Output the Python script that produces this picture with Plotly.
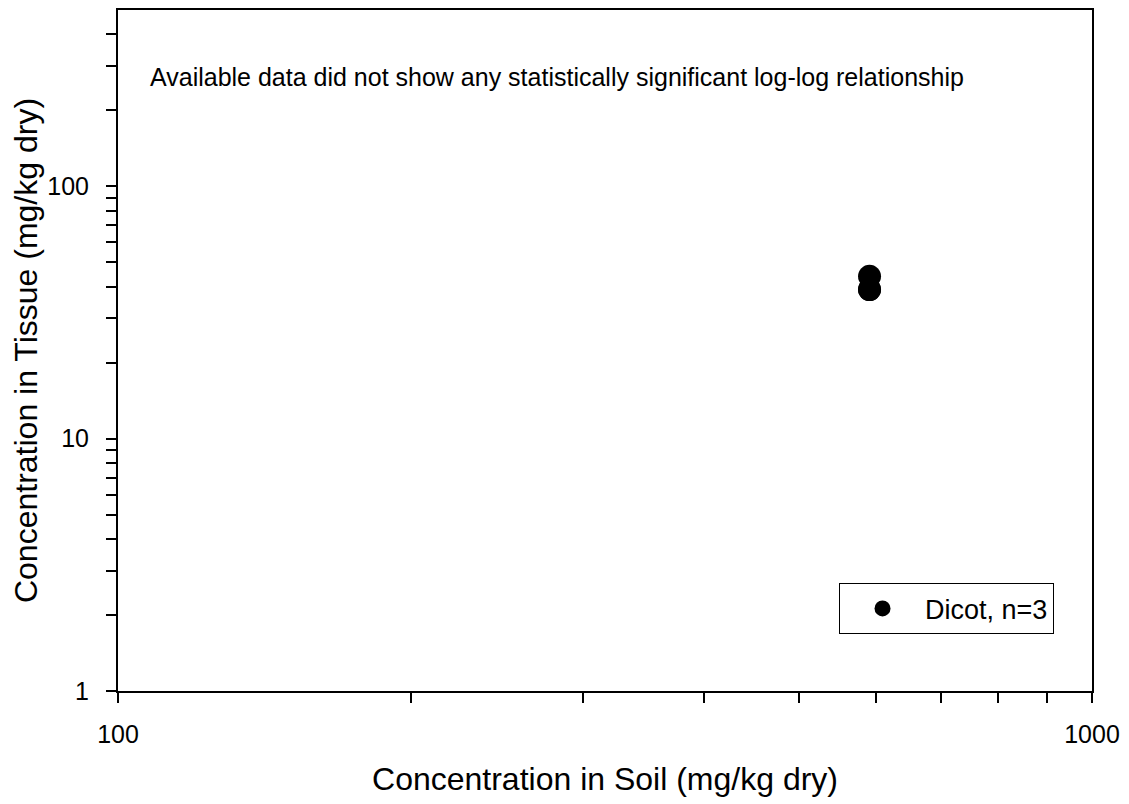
import plotly.graph_objects as go

soil = [591, 591, 591]
tissue = [44, 39, 39]
series_name = "Dicot, n=3"
note = "Available data did not show any statistically significant log-log relationship"
x_title = "Concentration in Soil (mg/kg dry)"
y_title = "Concentration in Tissue (mg/kg dry)"

font = "Liberation Sans, Arial, sans-serif"

fig = go.Figure()
fig.add_trace(go.Scatter(
    x=soil, y=tissue, mode="markers", name=series_name,
    marker=dict(color="black", size=23, line=dict(width=0)),
    showlegend=True,
))

xt = [100, 200, 300, 400, 500, 600, 700, 800, 900, 1000]
yt = [1, 2, 3, 4, 5, 6, 7, 8, 9, 10, 20, 30, 40, 50, 60, 70, 80, 90, 100, 200, 300, 400]
xtl = ["100" if v == 100 else ("1000" if v == 1000 else "") for v in xt]
ytl = [str(v) if v in (1, 10, 100) else "" for v in yt]

# page body has an 8px margin; compensate so the plot area sits at the same pixels
fig.update_layout(
    width=1121, height=796,
    margin=dict(l=110, r=37, t=0, b=113),
    paper_bgcolor="white", plot_bgcolor="white",
    font=dict(family=font, color="black", size=25),
    xaxis=dict(
        type="log", range=[2, 3],
        tickvals=xt, ticktext=xtl,
        ticks="outside", ticklen=10, tickwidth=2, tickcolor="black",
        showline=True, linecolor="black", linewidth=2, mirror=True,
        showgrid=False, zeroline=False,
        tickfont=dict(size=25), ticklabelstandoff=10,
        title=dict(text=x_title, font=dict(size=32), standoff=21),
    ),
    yaxis=dict(
        type="log", range=[0, 2.699],
        tickvals=yt, ticktext=ytl,
        ticks="outside", ticklen=10, tickwidth=2, tickcolor="black",
        showline=True, linecolor="black", linewidth=2, mirror=True,
        showgrid=False, zeroline=False,
        tickfont=dict(size=25), ticklabelstandoff=12,
        title=dict(text=y_title, font=dict(size=32), standoff=3),
    ),
    legend=dict(
        x=0.961, y=0.158, xanchor="right", yanchor="top",
        bordercolor="black", borderwidth=1, bgcolor="white",
        font=dict(size=27), itemsizing="trace", itemwidth=75,
    ),
    annotations=[dict(
        text=note, xref="paper", yref="paper", x=0.031, y=0.902,
        xanchor="left", yanchor="middle", showarrow=False,
        font=dict(size=25),
    )],
    showlegend=True,
)

fig.write_html("out.html")
